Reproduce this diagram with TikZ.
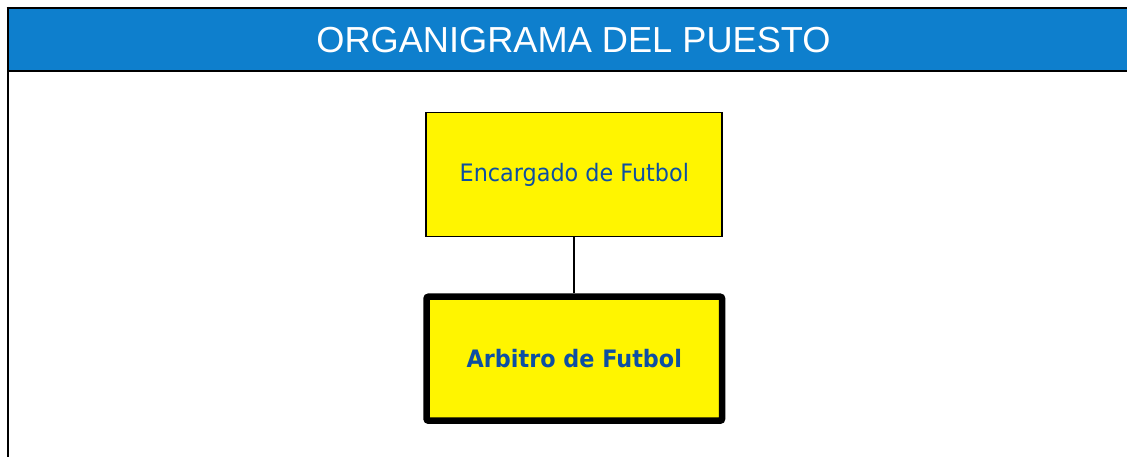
\documentclass[tikz,border=0pt]{standalone}
\usepackage{fontspec}
\setmainfont{Liberation Sans}
\newfontfamily\boxfont[FakeStretch=0.93]{DejaVu Sans}
\definecolor{hdrblue}{RGB}{14,127,205}
\definecolor{boxyellow}{RGB}{255,245,0}
\definecolor{txtblue}{RGB}{13,79,163}
\begin{document}
\begin{tikzpicture}[x=1pt,y=-1pt,
  titletext/.style={text=white,font=\fontsize{36.2}{40}\selectfont,inner sep=0pt},
  bossbox/.style={draw=black,line width=1.9pt,fill=boxyellow,minimum width=296pt,minimum height=124pt,inner sep=0pt,text=txtblue,font=\boxfont\fontsize{24}{28}\selectfont},
  mainbox/.style={draw=black,line width=6.5pt,rounded corners=2pt,fill=boxyellow,minimum width=295.5pt,minimum height=124pt,inner sep=0pt,text=txtblue,font=\boxfont\bfseries\fontsize{24}{28}\selectfont},
  link/.style={draw=black,line width=2pt}]
\useasboundingbox (0,0) rectangle (1127,457);
\fill[white] (0,0) rectangle (1127,457);
% header band
\fill[hdrblue] (7.5,8) rectangle (1127,71);
\draw[black,line width=2pt] (6.5,8) -- (1127,8);
\draw[black,line width=2pt] (7.5,71) -- (1127,71);
\draw[black,line width=2pt] (7.5,7) -- (7.5,457);
\node[titletext] (title) at (573.5,40) {ORGANIGRAMA DEL PUESTO};
% boxes
\node[bossbox] (boss) at (574.3,174.5) {Encargado de Futbol};
\node[mainbox] (main) at (574.3,358.7) {Arbitro de Futbol};
\draw[link] (boss.south) -- (main.north);
\end{tikzpicture}
\end{document}
